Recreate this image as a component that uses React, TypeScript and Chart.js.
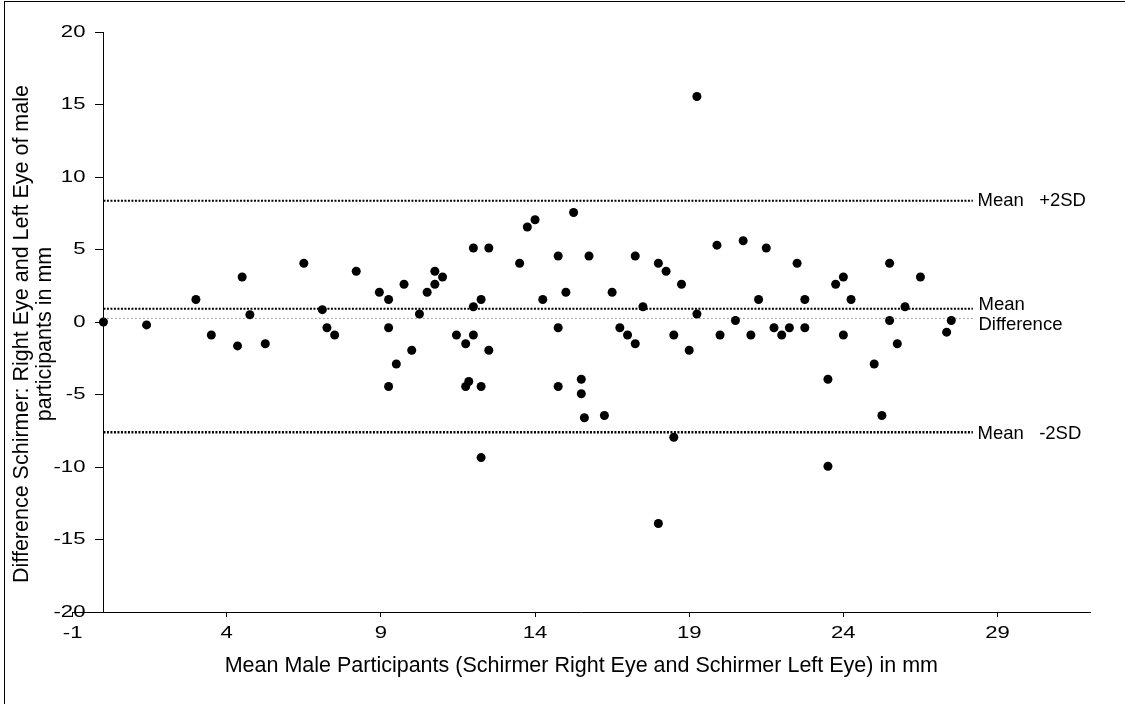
import React, { useEffect, useRef } from "react";
import { Chart, registerables } from "chart.js";

Chart.register(...registerables);

// Mean of right and left Schirmer readings (mm) for each male participant
const meanSchirmer = [
  0.0, 1.4, 3.0, 3.5, 4.35, 4.5, 4.75, 5.25, 6.5, 7.1, 7.25, 7.5, 8.2, 8.95,
  9.25, 9.25, 9.25, 9.5, 9.75, 10.0, 10.25, 10.5, 10.75, 10.75, 11.0, 11.45,
  11.75, 12.0, 12.0, 12.0, 12.25, 11.75, 11.85, 12.25, 12.5, 12.5, 12.25, 13.5,
  13.75, 14.0, 14.25, 14.75, 14.75, 14.75, 15.0, 15.25, 15.5, 15.5, 15.6, 15.75,
  16.25, 16.5, 16.75, 17.0, 17.25, 17.25, 17.5, 18.0, 18.25, 18.0, 18.5, 18.5,
  18.75, 19.0, 19.25, 19.25, 19.9, 20.0, 20.5, 20.75, 21.0, 21.25, 21.5, 21.75,
  22.0, 22.25, 22.5, 22.75, 22.75, 23.5, 23.5, 23.75, 24.0, 24.0, 24.25, 25.0,
  25.25, 25.5, 25.5, 25.75, 26.0, 26.5, 27.35, 27.5,
];

// Right minus left Schirmer reading (mm) for the same participants
const differenceSchirmer = [
  0.0, -0.2, 1.55, -0.9, -1.65, 3.1, 0.5, -1.5, 4.05, 0.85, -0.4, -0.9, 3.5, 2.05,
  1.55, -0.4, -4.45, -2.9, 2.6, -1.95, 0.55, 2.05, 2.6, 3.5, 3.1, -0.9,
  -1.5, -0.9, 1.05, 5.1, 1.55, -4.45, -4.1, -4.45, 5.1, -1.95, -9.35, 4.05,
  6.55, 7.05, 1.55, 4.55, -0.4, -4.45, 2.05, 7.55, -3.95, -4.95, -6.6, 4.55,
  -6.45, 2.05, -0.4, -0.9, 4.55, -1.5, 1.05, 4.05, 3.5, -13.9, -7.95, -0.9,
  2.6, -1.95, 0.55, 15.55, 5.3, -0.9, 0.1, 5.6, -0.9, 1.55, 5.1, -0.4,
  -0.9, -0.4, 4.05, 1.55, -0.4, -3.95, -9.95, 2.6, 3.1, -0.9, 1.55, -2.9,
  -6.45, 4.05, 0.1, -1.5, 1.05, 3.1, -0.7, 0.1,
];

const xTickValues = [-1, 4, 9, 14, 19, 24, 29];
const yTickValues = [-20, -15, -10, -5, 0, 5, 10, 15, 20];

// Limits of agreement: mean + 2SD, mean difference, mean - 2SD
const limitValues = [8.37, 0.92, -7.6];
const limitLabels = [["Mean   +2SD"], ["Mean", "Difference"], ["Mean   -2SD"]];
const zeroReference = 0.25;
const limitStart = 0;
const limitEnd = 28.2;
const labelAt = 28.35;

const xTitle = "Mean Male Participants (Schirmer Right Eye and Schirmer Left Eye) in mm";
const yTitle = ["Difference Schirmer: Right Eye and Left Eye of male", "participants in mm"];

const FONT = '"Liberation Sans", Arial, sans-serif';
const TICK_STRETCH = 1.3;

// Draw text with a horizontal stretch factor, anchored at (x, y)
function stretchedText(
  ctx: CanvasRenderingContext2D,
  text: string,
  x: number,
  y: number,
  sx: number,
  rotate = 0
) {
  ctx.save();
  ctx.translate(x, y);
  if (rotate) ctx.rotate(rotate);
  ctx.scale(sx, 1);
  ctx.fillText(text, 0, 0);
  ctx.restore();
}

const textPlugin = {
  id: "blandAltmanText",
  afterDraw(chart: any) {
    const { ctx, chartArea } = chart;
    const xs = chart.scales.x;
    const ys = chart.scales.y;
    ctx.save();
    ctx.fillStyle = "#000";
    ctx.textBaseline = "middle";

    // y tick labels, to the left of the axis at x = 0
    ctx.font = `17px ${FONT}`;
    ctx.textAlign = "right";
    const axisX = xs.getPixelForValue(0);
    ys.ticks.forEach((t: any) => {
      stretchedText(ctx, String(t.value), axisX - 18, ys.getPixelForValue(t.value), TICK_STRETCH);
    });

    // x tick labels under the bottom axis
    ctx.textAlign = "center";
    xs.ticks.forEach((t: any) => {
      stretchedText(ctx, String(t.value), xs.getPixelForValue(t.value), chartArea.bottom + 21, TICK_STRETCH);
    });

    // labels of the agreement lines
    ctx.font = `18.5px ${FONT}`;
    ctx.textAlign = "left";
    const lx = xs.getPixelForValue(labelAt);
    limitValues.forEach((v, i) => {
      const y = ys.getPixelForValue(v);
      const lines = limitLabels[i];
      if (lines.length === 1) {
        ctx.fillText(lines[0], lx, y + (v < 0 ? 2 : 0));
      } else {
        ctx.fillText(lines[0], lx + 1, y - 4);
        ctx.fillText(lines[1], lx + 1, y + 16);
      }
    });

    // axis titles
    ctx.font = `21.5px ${FONT}`;
    ctx.textAlign = "center";
    ctx.fillText(xTitle, (chartArea.left + chartArea.right) / 2, 666);
    const cy = 334;
    stretchedText(ctx, yTitle[0], 22, cy, 1, -Math.PI / 2);
    stretchedText(ctx, yTitle[1], 45, cy, 1, -Math.PI / 2);
    ctx.restore();
  },
};

function hLine(y: number, width: number, dash: number[], color: string) {
  return {
    type: "line" as const,
    data: [
      { x: limitStart, y },
      { x: limitEnd, y },
    ],
    borderColor: color,
    borderWidth: width,
    borderDash: dash,
    pointRadius: 0,
    fill: false,
  };
}

export default function App() {
  const ref = useRef<HTMLCanvasElement | null>(null);

  useEffect(() => {
    if (!ref.current) return;
    const points = meanSchirmer.map((x, i) => ({ x, y: differenceSchirmer[i] }));
    const chart = new Chart(ref.current, {
      type: "scatter",
      data: {
        datasets: [
          hLine(limitValues[0], 2, [2, 1.5], "#000"),
          hLine(limitValues[1], 2, [2, 1.5], "#000"),
          hLine(zeroReference, 1, [1, 3], "#444"),
          hLine(limitValues[2], 2.5, [2, 1.5], "#000"),
          {
            type: "scatter" as const,
            data: points,
            pointRadius: 4.5,
            pointHoverRadius: 4.5,
            pointBackgroundColor: "#000",
            pointBorderWidth: 0,
            pointBorderColor: "#000",
          },
        ] as any,
      },
      options: {
        animation: false,
        responsive: false,
        devicePixelRatio: 1,
        events: [],
        layout: { padding: { left: 72.6, right: 35, top: 32, bottom: 52 } },
        plugins: { legend: { display: false }, tooltip: { enabled: false } },
        scales: {
          x: {
            type: "linear",
            position: "bottom",
            min: -1,
            max: 32,
            afterBuildTicks: (s: any) => {
              s.ticks = xTickValues.map((value) => ({ value }));
            },
            afterFit: (s: any) => {
              s.height = 40;
            },
            ticks: { display: false },
            grid: { drawOnChartArea: false, drawTicks: true, tickLength: 5, color: "#000" },
            border: { color: "#000", width: 1 },
          },
          y: {
            type: "linear",
            position: { x: 0 } as any,
            min: -20,
            max: 20,
            afterBuildTicks: (s: any) => {
              s.ticks = yTickValues.map((value) => ({ value }));
            },
            ticks: { display: false },
            grid: { drawOnChartArea: false, drawTicks: true, tickLength: 8, color: "#000" },
            border: { color: "#000", width: 1 },
          },
        },
      },
      plugins: [textPlugin],
    });
    return () => chart.destroy();
  }, []);

  return (
    <div style={{ position: "absolute", left: 0, top: 0, width: 1125, height: 704, background: "#fff" }}>
      <div
        style={{
          position: "absolute",
          left: 4,
          top: 1,
          width: 1125,
          height: 710,
          borderLeft: "1px solid #000",
          borderTop: "1px solid #000",
        }}
      />
      <canvas ref={ref} width={1125} height={704} style={{ position: "absolute", left: 0, top: 0 }} />
    </div>
  );
}
